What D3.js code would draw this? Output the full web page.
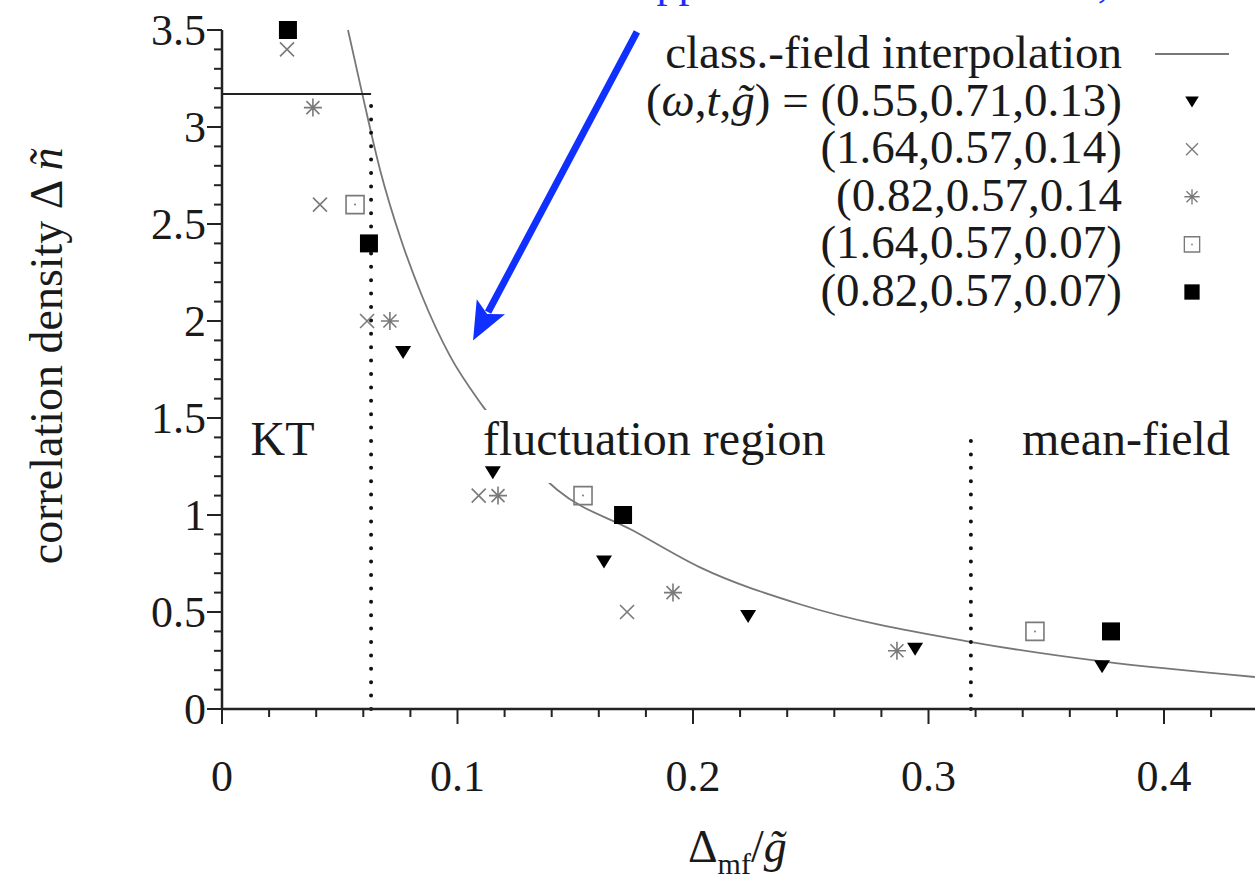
<!DOCTYPE html>
<html>
<head>
<meta charset="utf-8">
<script src="https://cdn.jsdelivr.net/npm/d3@7"></script>
<style>
  body { margin: 0; background: #fff; }
  svg { display: block; }
  text { font-family: "Liberation Serif", "Times New Roman", serif; fill: #1a1a1a; }
</style>
</head>
<body>
<svg id="chart" width="1255" height="879"></svg>
<script>
// ── Data: [Δ_mf / g̃ , Δñ] ─────────────────────────────────────
const seriesA = [[0.0769, 1.84], [0.115, 1.22], [0.1622, 0.76], [0.2234, 0.48], [0.2943, 0.31], [0.3737, 0.22]]; // (0.55,0.71,0.13)
const seriesB = [[0.0276, 3.4], [0.0416, 2.6], [0.0616, 2.0], [0.109, 1.1], [0.172, 0.5]];                         // (1.64,0.57,0.14)
const seriesC = [[0.0386, 3.1], [0.0713, 2.0], [0.1172, 1.1], [0.1915, 0.6], [0.2866, 0.3]];                       // (0.82,0.57,0.14
const seriesD = [[0.0565, 2.6], [0.1533, 1.1], [0.3452, 0.4]];                                                     // (1.64,0.57,0.07)
const seriesE = [[0.028, 3.5], [0.0624, 2.4], [0.1703, 1.0], [0.3775, 0.4]];                                       // (0.82,0.57,0.07)

// class.-field interpolation curve
const curve = [
  [0.0535, 3.50], [0.0594, 3.18], [0.0671, 2.78], [0.0760, 2.42], [0.0849, 2.13],
  [0.0968, 1.82], [0.1108, 1.56], [0.1423, 1.13], [0.1745, 0.92], [0.2030, 0.73],
  [0.2454, 0.54], [0.3183, 0.345], [0.3737, 0.245], [0.4386, 0.165]
];

const ktLevel = 3.17;      // horizontal KT line
const ktBoundary = 0.0633; // dotted boundary KT / fluctuation
const mfBoundary = 0.318;  // dotted boundary fluctuation / mean-field
const mfTop = 1.45;

const xTicks = [0, 0.1, 0.2, 0.3, 0.4];
const yTicks = [0, 0.5, 1, 1.5, 2, 2.5, 3, 3.5];

const legendRows = [
  { label: 'class.-field interpolation', type: 'line' },
  { label: '(0.55,0.71,0.13)', type: 'tri', prefix: true },
  { label: '(1.64,0.57,0.14)', type: 'cross' },
  { label: '(0.82,0.57,0.14', type: 'star' },
  { label: '(1.64,0.57,0.07)', type: 'osq' },
  { label: '(0.82,0.57,0.07)', type: 'fsq' }
];

// ── Layout ──────────────────────────────────────────────────
const svg = d3.select('#chart');
const FS = 44;        // tick labels
const FS_LEG = 47;    // legend
const FS_REG = 48;    // region labels
const x = d3.scaleLinear().domain([0, 0.45]).range([222, 222 + 0.45 * 2355]);
const y = d3.scaleLinear().domain([0, 3.5]).range([709, 30]);

const GRAY = '#7a7a7a';

// marker paths
function markerPath(type) {
  switch (type) {
    case 'tri': return 'M-8,-6L8,-6L0,7Z';
    case 'cross': return 'M-7,-7L7,7M-7,7L7,-7';
    case 'star': return 'M-9,0L9,0M0,-9L0,9M-6.5,-6.5L6.5,6.5M-6.5,6.5L6.5,-6.5';
    case 'osq': return 'M-9,-9H9V9H-9Z';
    case 'fsq': return 'M-9,-9H9V9H-9Z';
  }
}
function drawMarker(sel, type) {
  const p = sel.append('path').attr('d', markerPath(type));
  if (type === 'tri' || type === 'fsq') p.attr('fill', '#000').attr('stroke', 'none');
  else p.attr('fill', 'none').attr('stroke', GRAY).attr('stroke-width', 1.6);
  if (type === 'osq') sel.append('circle').attr('r', 1).attr('fill', GRAY);
}

// ── Curve ───────────────────────────────────────────────────
const line = d3.line().x(d => x(d[0])).y(d => y(d[1])).curve(d3.curveMonotoneX);
svg.append('path')
  .datum(curve)
  .attr('d', line)
  .attr('fill', 'none')
  .attr('stroke', '#777')
  .attr('stroke-width', 1.8);

// ── Reference lines ─────────────────────────────────────────
svg.append('line')
  .attr('x1', x(0)).attr('x2', x(ktBoundary))
  .attr('y1', y(ktLevel)).attr('y2', y(ktLevel))
  .attr('stroke', '#222').attr('stroke-width', 2);

[[ktBoundary, ktLevel], [mfBoundary, mfTop]].forEach(([bx, top]) => {
  svg.append('line')
    .attr('x1', x(bx)).attr('x2', x(bx))
    .attr('y1', y(0)).attr('y2', y(top))
    .attr('stroke', '#111').attr('stroke-width', 4)
    .attr('stroke-linecap', 'round')
    .attr('stroke-dasharray', '0 13.4');
});

// ── Region labels (white box hides curve behind text) ───────
const regions = [
  { text: 'KT', x: 0.0121 },
  { text: 'fluctuation region', x: 0.1108 },
  { text: 'mean-field', x: 0.3397 }
];
regions.forEach(r => {
  const g = svg.append('g');
  const t = g.append('text')
    .attr('x', x(r.x)).attr('y', 455)
    .attr('font-size', FS_REG)
    .text(r.text);
  if (r.text === 'fluctuation region') {
    const bb = t.node().getBBox();
    g.insert('rect', 'text')
      .attr('x', bb.x - 4).attr('y', bb.y - 2)
      .attr('width', bb.width + 8).attr('height', bb.height + 20)
      .attr('fill', '#fff');
  }
});

// ── Axes ────────────────────────────────────────────────────
const ax = svg.append('g');
ax.append('line').attr('x1', x(0)).attr('x2', 1255).attr('y1', y(0)).attr('y2', y(0))
  .attr('stroke', '#222').attr('stroke-width', 2.5);
ax.append('line').attr('x1', x(0)).attr('x2', x(0)).attr('y1', y(0)).attr('y2', y(3.5))
  .attr('stroke', '#222').attr('stroke-width', 2.5);

d3.range(0, 23).map(i => i * 0.02).forEach(v => {
  const major = Math.abs(v * 10 - Math.round(v * 10)) < 1e-6;
  ax.append('line')
    .attr('x1', x(v)).attr('x2', x(v))
    .attr('y1', y(0)).attr('y2', y(0) + (major ? 15 : 8))
    .attr('stroke', '#222').attr('stroke-width', 2);
});
d3.range(0, 36).map(i => i * 0.1).forEach(v => {
  const major = Math.abs(v * 2 - Math.round(v * 2)) < 1e-6;
  ax.append('line')
    .attr('x1', x(0) - (major ? 15 : 8)).attr('x2', x(0))
    .attr('y1', y(v)).attr('y2', y(v))
    .attr('stroke', '#222').attr('stroke-width', 2);
});

ax.selectAll('.xl').data(xTicks).join('text')
  .attr('x', d => x(d)).attr('y', 791)
  .attr('text-anchor', 'middle').attr('font-size', FS)
  .text(d => d3.format('')(d));
ax.selectAll('.yl').data(yTicks).join('text')
  .attr('x', 206).attr('y', d => y(d)).attr('dy', '0.35em')
  .attr('text-anchor', 'end').attr('font-size', FS)
  .text(d => d3.format('')(d));

// axis titles
const yt = svg.append('text')
  .attr('transform', `translate(62,${y(1.82)}) rotate(-90)`)
  .attr('text-anchor', 'middle').attr('font-size', 46);
yt.append('tspan').text('correlation density  Δ ');
yt.append('tspan').attr('font-style', 'italic').text('ñ');

const xt = svg.append('text').attr('x', 688).attr('y', 862).attr('font-size', 46);
xt.append('tspan').text('Δ');
xt.append('tspan').attr('font-size', 30).attr('dy', 12).text('mf');
xt.append('tspan').attr('dy', -12).text('/');
xt.append('tspan').attr('font-style', 'italic').text('g̃');

// ── Data markers ────────────────────────────────────────────
[[seriesB, 'cross'], [seriesC, 'star'], [seriesD, 'osq'], [seriesA, 'tri'], [seriesE, 'fsq']].forEach(([data, type]) => {
  data.forEach(d => {
    const g = svg.append('g').attr('transform', `translate(${x(d[0])},${y(d[1])})`);
    drawMarker(g, type);
  });
});

// ── Legend ──────────────────────────────────────────────────
const legY0 = 68, legStep = 47.6, legTextX = 1122, legSymX = 1192;
legendRows.forEach((r, i) => {
  const by = legY0 + i * legStep;
  const t = svg.append('text')
    .attr('x', legTextX).attr('y', by)
    .attr('text-anchor', 'end').attr('font-size', FS_LEG);
  if (r.prefix) {
    t.append('tspan').text('(');
    t.append('tspan').attr('font-style', 'italic').text('ω');
    t.append('tspan').text(',');
    t.append('tspan').attr('font-style', 'italic').text('t');
    t.append('tspan').text(',');
    t.append('tspan').attr('font-style', 'italic').text('g̃');
    t.append('tspan').text(') = ' + r.label);
  } else {
    t.text(r.label);
  }
  const cy = by - 14;
  if (r.type === 'line') {
    svg.append('line').attr('x1', 1155).attr('x2', 1229).attr('y1', cy).attr('y2', cy)
      .attr('stroke', '#777').attr('stroke-width', 1.8);
  } else {
    const g = svg.append('g').attr('transform', `translate(${legSymX},${cy}) scale(0.85)`);
    drawMarker(g, r.type);
  }
});

// ── Blue annotation (cut off at the top of the picture) ─────
svg.append('text')
  .attr('x', 637).attr('y', -3)
  .attr('font-size', 44).style('fill', '#1a2cff')
  .text('approximation to the limit,');

const arrowFrom = [0.1762, 3.49], arrowTo = [0.1066, 1.90];
const ax0 = x(arrowFrom[0]), ay0 = y(arrowFrom[1]), ax1 = x(arrowTo[0]), ay1 = y(arrowTo[1]);
const len = Math.hypot(ax1 - ax0, ay1 - ay0);
const ux = (ax1 - ax0) / len, uy = (ay1 - ay0) / len;
const headL = 38, headW = 16;
const bx = ax1 - ux * headL, by = ay1 - uy * headL;
svg.append('line')
  .attr('x1', ax0).attr('y1', ay0).attr('x2', bx + ux * 6).attr('y2', by + uy * 6)
  .attr('stroke', '#1030ff').attr('stroke-width', 7);
svg.append('path')
  .attr('d', `M${ax1},${ay1}L${bx - uy * headW},${by + ux * headW}L${bx + ux * 8},${by + uy * 8}L${bx + uy * headW},${by - ux * headW}Z`)
  .attr('fill', '#1030ff');
</script>
</body>
</html>
